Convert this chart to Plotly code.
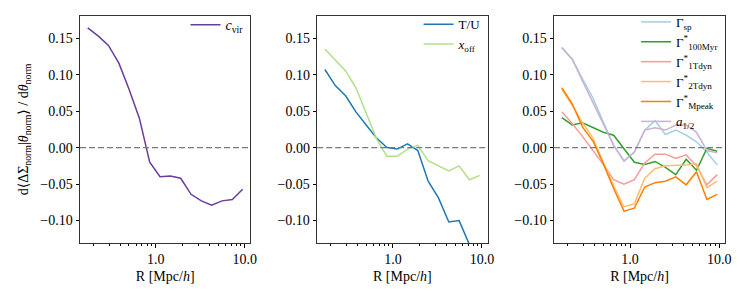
import plotly.graph_objects as go
from plotly.subplots import make_subplots

R = [0.172, 0.225, 0.294, 0.384, 0.501, 0.655, 0.855, 1.117, 1.459, 1.905,
     2.489, 3.251, 4.246, 5.546, 7.244, 9.462]

c_vir = [0.164, 0.153, 0.140, 0.116, 0.080, 0.040, -0.020, -0.040, -0.039, -0.042,
         -0.064, -0.073, -0.079, -0.073, -0.071, -0.057]

T_U = [0.107, 0.085, 0.071, 0.049, 0.031, 0.013, 0.000, -0.002, 0.005, -0.004,
       -0.046, -0.069, -0.102, -0.100, -0.133, -0.160]
x_off = [0.135, 0.120, 0.105, 0.082, 0.048, 0.012, -0.012, -0.012, -0.002, 0.003,
         -0.018, -0.025, -0.032, -0.025, -0.044, -0.038]

G_sp = [0.137, 0.121, 0.094, 0.068, 0.035, 0.003, -0.019, -0.006, 0.024, 0.037,
        0.018, 0.024, 0.017, 0.008, -0.006, -0.024]
G_100 = [0.041, 0.031, 0.034, 0.027, 0.021, 0.017, -0.001, -0.020, -0.023, -0.019,
         -0.027, -0.037, -0.016, -0.031, -0.001, -0.005]
G_1T = [0.049, 0.033, 0.015, -0.004, -0.023, -0.044, -0.050, -0.044, -0.021, -0.009,
        -0.009, -0.015, -0.010, -0.025, -0.051, -0.037]
G_2T = [0.080, 0.058, 0.034, 0.013, -0.020, -0.052, -0.081, -0.077, -0.042, -0.029,
        -0.025, -0.025, -0.024, -0.022, -0.055, -0.046]
G_Mp = [0.082, 0.060, 0.028, 0.009, -0.022, -0.056, -0.087, -0.083, -0.054, -0.048,
        -0.046, -0.040, -0.051, -0.033, -0.071, -0.064]
a_half = [0.137, 0.121, 0.091, 0.062, 0.031, 0.003, -0.018, -0.006, 0.024, 0.027,
          0.024, 0.031, 0.031, 0.021, -0.004, -0.007]

yticks = [-0.10, -0.05, 0.00, 0.05, 0.10, 0.15]
xticks = [1.0, 10.0]
xticklabels = ["1.0", "10.0"]
minor_x = [0.2, 0.3, 0.4, 0.5, 0.6, 0.7, 0.8, 0.9, 2, 3, 4, 5, 6, 7, 8, 9]

panels = [
    [("<i>c</i><sub>vir</sub>", c_vir, "#6a3d9a")],
    [("T/U", T_U, "#1f78b4"), ("<i>x</i><sub>off</sub>", x_off, "#b2df8a")],
    [("Γ<sub>sp</sub>", G_sp, "#a6cee3"),
     ("Γ<sup>*</sup><sub>100Myr</sub>", G_100, "#33a02c"),
     ("Γ<sup>*</sup><sub>1Tdyn</sub>", G_1T, "#fb9a99"),
     ("Γ<sup>*</sup><sub>2Tdyn</sub>", G_2T, "#fdbf6f"),
     ("Γ<sup>*</sup><sub>Mpeak</sub>", G_Mp, "#ff7f00"),
     ("<i>a</i><sub>1/2</sub>", a_half, "#cab2d6")],
]

# page body has an 8px margin, so the figure starts at (8, 8)
OFF = 8
W, H = 747 - OFF, 299 - OFF
ml, mr, mt, mb = 80 - OFF, 21.7, 15.7 - OFF, 56.3
pw = W - ml - mr
edges = [(80, 250.5), (317.3, 487.7), (554.3, 725.3)]
domains = [((a - OFF - ml) / pw, (b - OFF - ml) / pw) for a, b in edges]

FONT = "Liberation Serif, DejaVu Serif, serif"
FS = 14

fig = make_subplots(rows=1, cols=3)
legnames = ["legend", "legend2", "legend3"]
for i, series in enumerate(panels):
    for name, vals, col in series:
        fig.add_trace(go.Scatter(x=R, y=vals, mode="lines", name=name,
                                 line=dict(color=col, width=1.5),
                                 legend=legnames[i]), row=1, col=i + 1)

layout = dict(width=W, height=H,
              margin=dict(l=ml, r=mr, t=mt, b=mb, autoexpand=False),
              plot_bgcolor="white", paper_bgcolor="white",
              font=dict(family=FONT, size=FS, color="black"), showlegend=True)
for i in range(3):
    ax = "" if i == 0 else str(i + 1)
    layout["xaxis" + ax] = dict(
        domain=list(domains[i]), type="log", range=[-0.851, 1.063],
        tickvals=xticks, ticktext=xticklabels, ticks="outside", ticklen=3.5,
        tickwidth=0.8, tickcolor="black", showline=True, linecolor="#333333",
        linewidth=1, mirror=True, showgrid=False, zeroline=False,
        minor=dict(tickvals=minor_x, ticks="outside", ticklen=2, tickwidth=0.6,
                   tickcolor="black", showgrid=False),
        title=dict(text="R [Mpc/<i>h</i>]", standoff=4, font=dict(size=FS)),
        tickfont=dict(size=FS), automargin=False)
    layout["yaxis" + ax] = dict(
        range=[-0.1307, 0.1803], tickvals=yticks, tickformat=".2f",
        ticks="outside", ticklen=3.5, tickwidth=0.8, tickcolor="black",
        showline=True, linecolor="#333333", linewidth=1, mirror=True,
        showgrid=False, zeroline=False, tickfont=dict(size=FS), automargin=False)
    fig.add_shape(type="line", xref=f"x{ax} domain", yref=f"y{ax}",
                  x0=0, x1=1, y0=0, y1=0,
                  line=dict(color="#7a7a7a", width=1.4, dash="6px,3px"))

layout["yaxis"]["title"] = dict(
    text="d⟨ΔΣ<sub>norm</sub>|<i>θ</i><sub>norm</sub>⟩ / d<i>θ</i><sub>norm</sub>",
    standoff=8, font=dict(size=FS))

legx = [domains[0][1], domains[1][1], domains[2][1]]
legy = [1.03, 1.03, 1.04]
legfs = [FS, 13, 13]
for i, ln in enumerate(legnames):
    layout[ln] = dict(x=legx[i] - 0.003, xanchor="right", y=legy[i], yanchor="top",
                      bgcolor="rgba(0,0,0,0)", borderwidth=0,
                      font=dict(size=legfs[i]), tracegroupgap=0, itemwidth=30)

fig.update_layout(**layout)
fig.write_html("out.html")
